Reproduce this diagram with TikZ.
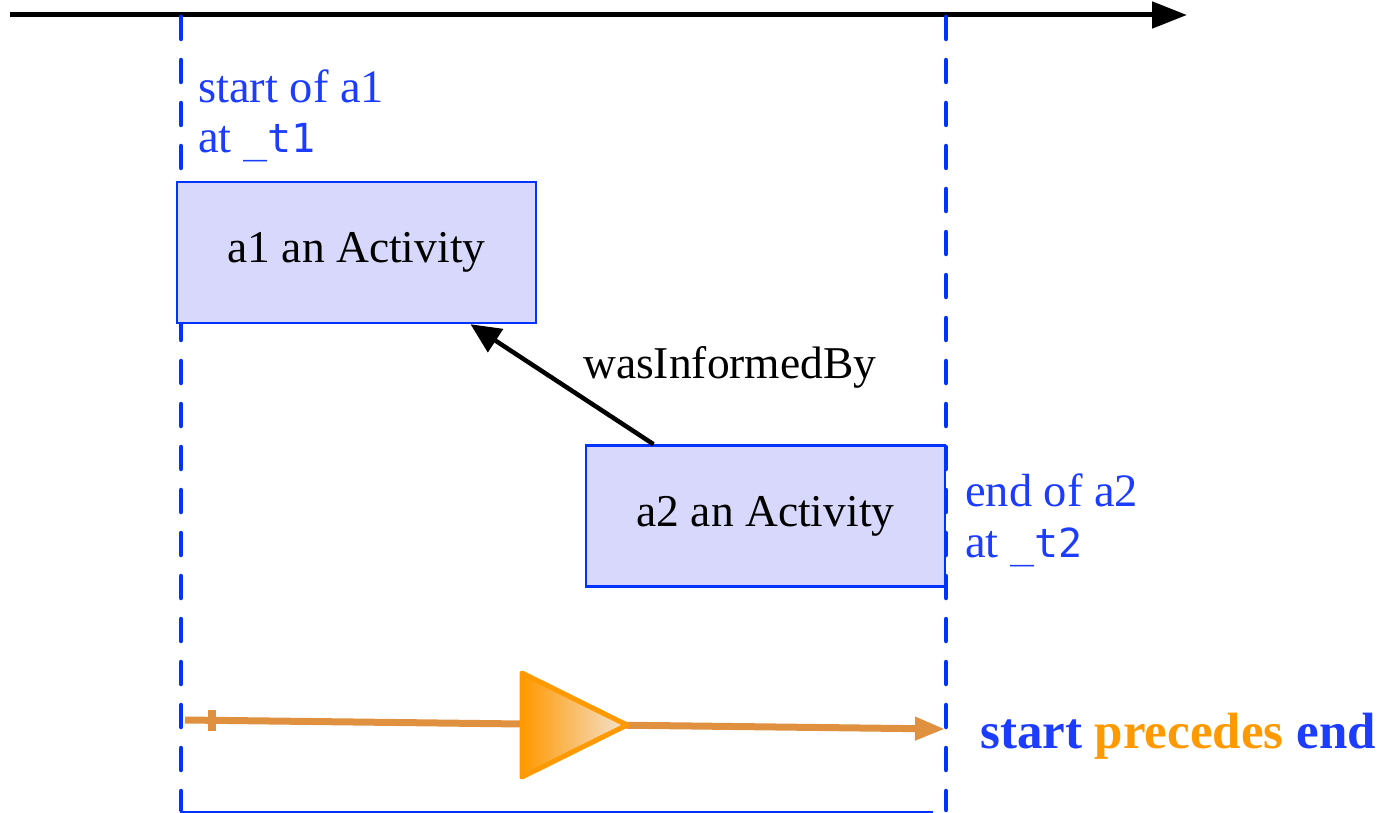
\documentclass[tikz,border=0pt]{standalone}
\usepackage{fontspec}
\setmainfont{Liberation Serif}
\newfontfamily\codefont{DejaVu Sans Mono}
\usetikzlibrary{arrows.meta}
\definecolor{lineblue}{RGB}{0,51,255}
\definecolor{textblue}{RGB}{28,60,255}
\definecolor{boxfill}{RGB}{216,216,252}
\definecolor{precline}{RGB}{224,145,64}
\definecolor{precorange}{RGB}{255,153,0}
\definecolor{precpale}{RGB}{242,228,212}
\begin{document}
\begin{tikzpicture}[x=1pt,y=-1pt,
  actbox/.style={draw=lineblue, fill=boxfill, line width=2.5pt, minimum width=359pt, minimum height=141pt, inner sep=0pt, font=\fontsize{45.5}{54}\selectfont},
  lifeline/.style={draw=lineblue, line width=4.5pt, line cap=round, dash pattern=on 22pt off 21pt},
  note/.style={anchor=base west, inner sep=0pt, text=textblue, font=\fontsize{46.5}{56}\selectfont},
  axisarrow/.style={draw=black, line width=5pt, -{Triangle[length=35pt,width=26pt]}},
  relarrow/.style={draw=black, line width=4.5pt, -{Triangle[length=30pt,width=27pt]}},
  precarrow/.style={draw=precline, line width=7pt, -{Triangle[length=30pt,width=22pt]}},
]
\useasboundingbox (0,0) rectangle (1386,813);
% time axis
\coordinate (axL) at (10,15);
\coordinate (axR) at (1187,15);
\draw[axisarrow] (axL) -- (axR);
% life lines
\coordinate (l1t) at (181,17);
\coordinate (l1b) at (181,810);
\coordinate (l2t) at (946,17);
\coordinate (l2b) at (946,810);
\draw[lifeline] (l1t) -- (l1b);
\draw[lifeline] (l2t) -- (l2b);
% bottom line
\coordinate (bl) at (180,812);
\coordinate (br) at (933,812);
\draw[draw=lineblue, line width=2pt] (bl) -- (br);
% activities
\node[actbox] (a1) at (356.5,252.5) {a1 an Activity};
\node[actbox] (a2) at (765.5,516) {a2 an Activity};
\draw[relarrow] ([xshift=-112pt]a2.north) -- ([xshift=114pt]a1.south);
\node[anchor=base west, inner sep=0pt, font=\fontsize{45.5}{54}\selectfont] (rel) at (583,378) {wasInformedBy};
% notes
\node[note] (s1) at (198,103) {start of a1};
\node[note] (s2) at (198,153) {at {\codefont\fontsize{40}{48}\selectfont\_t1}};
\node[note] (e1) at (965,506) {end of a2};
\node[note] (e2) at (965,557) {at {\codefont\fontsize{40}{48}\selectfont\_t2}};
% precedes
\coordinate (pS) at (185,720);
\coordinate (pE) at (945,729);
\draw[precarrow] (pS) -- (pE);
\coordinate (tkT) at (212,710);
\coordinate (tkB) at (212,731);
\draw[draw=precline, line width=8pt] (tkT) -- (tkB);
\shadedraw[left color=precorange, right color=precpale, draw=precorange, line width=5pt, line join=round]
  (522,673) -- (627,725) -- (522,777) -- cycle;
\node[anchor=base west, inner sep=0pt, font=\bfseries\fontsize{51}{60}\selectfont] (prec) at (980,748)
  {\textcolor{textblue}{start} \textcolor{precorange}{precedes} \textcolor{textblue}{end}};
\end{tikzpicture}
\end{document}
